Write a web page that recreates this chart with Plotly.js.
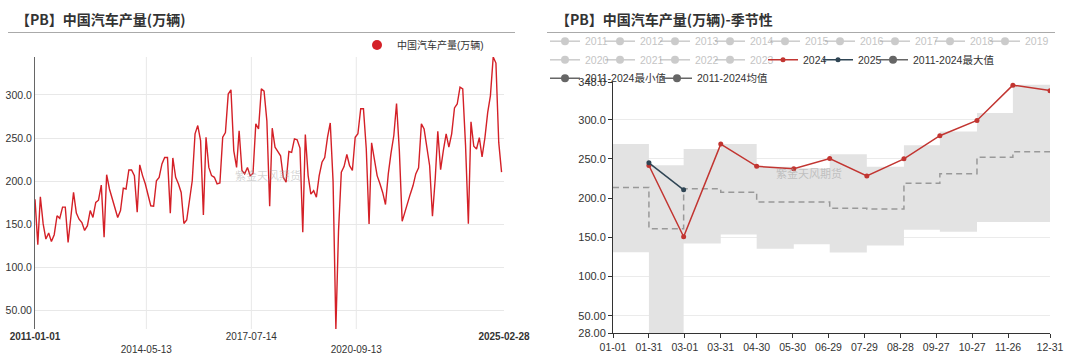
<!DOCTYPE html>
<html><head><meta charset="utf-8">
<script src="https://cdn.plot.ly/plotly-3.0.1.min.js"></script>
<style>
html,body{margin:0;padding:0;background:#fff;}
#wrap{position:relative;width:1080px;height:354px;overflow:hidden;}
#left{position:absolute;left:0;top:0;width:540px;height:354px;}
#right{position:absolute;left:540px;top:0;width:540px;height:354px;}
</style></head><body>
<div id="wrap"><div id="left"></div><div id="right"></div></div>
<script>
// ---------------- data ----------------
const seriesName = '中国汽车产量(万辆)';
const leftTitle = '【PB】中国汽车产量(万辆)';
const rightTitle = '【PB】中国汽车产量(万辆)-季节性';
const watermark = '紫金天风期货';
const firstYear = 2011;
// monthly production, Jan 2011 .. Feb 2025 (万辆)
const prod2011 = [179, 126.5, 182, 150.5, 133, 140, 130, 138, 160, 157, 170, 170];
const prod2012 = [129, 158, 187, 163, 156, 152, 143, 148.5, 166, 158, 175.5, 178];
const prod2013 = [195.5, 135, 207.5, 191, 179.5, 170, 158, 166, 192, 191, 213, 213];
const prod2014 = [206.5, 164, 219, 206.5, 197, 184, 171.5, 171, 200.5, 204.5, 220, 227.5];
const prod2015 = [227.5, 163, 227, 204.5, 197, 187, 151, 155, 177.5, 200.5, 255, 264.5];
const prod2016 = [247, 161, 251, 216, 206.5, 204.5, 197, 198, 251, 256.5, 301, 306];
const prod2017 = [235.5, 216, 258.5, 212.5, 208.5, 216, 206.5, 209, 266.5, 260.5, 307, 304.5];
const prod2018 = [270, 171, 261.5, 239.5, 234.5, 229.5, 204.5, 199, 234.5, 233.5, 249, 248];
const prod2019 = [238.5, 141, 254, 206.5, 185, 189, 181.5, 206.5, 222, 227.5, 251, 267.5];
const prod2020 = [200, 28.7, 142, 210.5, 217, 231, 218, 212.5, 251, 255, 284, 284];
const prod2021 = [238, 150.5, 244.5, 224, 206.5, 197, 187, 173, 208.5, 232.5, 253, 290];
const prod2022 = [235.5, 153.5, 164, 173.5, 185, 195, 208.5, 215.5, 266.5, 260.5, 239.5, 218];
const prod2023 = [159.4, 203.5, 258, 213.5, 235.5, 255, 239.5, 255, 285, 289.5, 309, 307];
const prod2024 = [241.5, 150.7, 268.8, 240.5, 237.4, 250.5, 228.3, 250, 279.5, 299, 344, 337];
const prod2025 = [245, 210.5];
const yearly = [prod2011, prod2012, prod2013, prod2014, prod2015, prod2016, prod2017,
  prod2018, prod2019, prod2020, prod2021, prod2022, prod2023, prod2024, prod2025];

const leftTickDates = ['2011-01-01', '2014-05-13', '2017-07-14', '2020-09-13', '2025-02-28'];
const leftTickText = ['<b>2011-01-01</b>', '<br>2014-05-13', '2017-07-14', '<br>2020-09-13', '<b>2025-02-28</b>'];
const leftYTicks = [50, 100, 150, 200, 250, 300];
const leftYText = ['50.00', '100.0', '150.0', '200.0', '250.0', '300.0'];

// seasonal chart (mapped onto 2024 calendar)
const seasonStart = '2024-01-01';
const seasonMonthEnds = ['2024-01-31', '2024-02-29', '2024-03-31', '2024-04-30', '2024-05-31', '2024-06-30',
  '2024-07-31', '2024-08-31', '2024-09-30', '2024-10-31', '2024-11-30', '2024-12-31'];
const bandMax = [269, 242, 262.5, 269, 240, 238, 256, 240, 267.5, 285, 308.5, 344.5];
const bandMin = [130.8, 28, 142, 153.7, 135.5, 141, 130.6, 139.7, 159.7, 157, 169.5, 169.5];
const bandAvg = [213.5, 161, 212, 207.5, 195, 195, 187, 186, 219, 231, 252, 259];
const maxName = '2011-2024最大值', minName = '2011-2024最小值', avgName = '2011-2024均值';
const seasonTickDates = ['2024-01-01', '2024-01-31', '2024-03-01', '2024-03-31', '2024-04-30', '2024-05-30',
  '2024-06-29', '2024-07-29', '2024-08-28', '2024-09-27', '2024-10-27', '2024-11-26', '2024-12-31'];
const seasonTickText = ['01-01', '01-31', '03-01', '03-31', '04-30', '05-30', '06-29', '07-29', '08-28',
  '09-27', '10-27', '11-26', '12-31'];
const rightYTicks = [28, 50, 100, 150, 200, 250, 300, 348];
const rightYText = ['28.00', '50.00', '100.0', '150.0', '200.0', '250.0', '300.0', '348.0'];

// ---------------- styling ----------------
const FONT = '"Liberation Sans", Arial, "Noto Sans CJK SC", sans-serif';
const TITLEFONT = '"Noto Sans CJK SC", "Liberation Sans", sans-serif';
const RED_LEFT = '#d42027';
const RED = '#c23531';
const NAVY = '#2f4554';
const W = 540, H = 354;

function fx(px, m) { return (px - m.l) / (W - m.l - m.r); }
function fy(py, m) { return (H - m.b - py) / (H - m.t - m.b); }

// ---------------- left chart ----------------
const dates = [];
const values = [];
yearly.forEach((arr, k) => {
  arr.forEach((v, mi) => {
    dates.push((firstYear + k) + '-' + String(mi + 1).padStart(2, '0') + '-01');
    values.push(v);
  });
});
const mL = {l: 35, r: 36, t: 57, b: 25, autoexpand: false};
const leftTraces = [
  {x: dates, y: values, type: 'scatter', mode: 'lines', name: seriesName, legendgroup: 'g',
   showlegend: false, line: {color: RED_LEFT, width: 1.4}, hoverinfo: 'x+y'},
  {x: [null], y: [null], type: 'scatter', mode: 'markers', name: seriesName, legendgroup: 'g',
   marker: {color: RED_LEFT, size: 10}}
];
const leftLayout = {
  width: W, height: H, margin: mL, paper_bgcolor: '#fff', plot_bgcolor: '#fff',
  font: {family: FONT, color: '#333', size: 10},
  title: {text: leftTitle, x: 16 / W, xanchor: 'left', xref: 'container', y: 1 - 20 / H, yanchor: 'middle', yref: 'container',
    font: {family: TITLEFONT, size: 14, color: '#333', weight: 'bold'}},
  showlegend: true,
  legend: {orientation: 'h', xref: 'container', yref: 'container', x: 357 / W, y: 1 - 30.5 / H, xanchor: 'left', yanchor: 'top',
    font: {size: 10, color: '#333'}, bgcolor: 'rgba(0,0,0,0)'},
  xaxis: {type: 'date', range: [leftTickDates[0], leftTickDates[leftTickDates.length - 1]],
    tickmode: 'array', tickvals: leftTickDates, ticktext: leftTickText, showgrid: false, showline: false,
    ticks: '', tickfont: {size: 10, color: '#333'}, zeroline: false, fixedrange: true},
  yaxis: {range: [Math.min(...values), Math.max(...values)], tickmode: 'array', tickvals: leftYTicks, ticktext: leftYText,
    showgrid: true, gridcolor: '#e8e8e8', gridwidth: 1, showline: true, linecolor: '#666', linewidth: 1,
    ticks: '', tickfont: {size: 10.5, color: '#333'}, zeroline: false, fixedrange: true},
  shapes: [
    {type: 'line', xref: 'paper', yref: 'paper', x0: fx(8, mL), x1: fx(515, mL), y0: fy(32.5, mL), y1: fy(32.5, mL),
     line: {color: '#aaa', width: 1.2}}
  ].concat(leftTickDates.slice(1, 4).map(d => ({type: 'line', xref: 'x', yref: 'paper', x0: d, x1: d, y0: 0, y1: 1,
     line: {color: '#e8e8e8', width: 1}, layer: 'below'}))),
  annotations: [{text: watermark, xref: 'paper', yref: 'paper', x: fx(268, mL), y: fy(175, mL), showarrow: false,
    font: {size: 11, color: 'rgba(160,160,160,0.45)'}}]
};
Plotly.newPlot('left', leftTraces, leftLayout, {displayModeBar: false, staticPlot: true});

// ---------------- right chart ----------------
const mR = {l: 73, r: 30, t: 82, b: 21, autoexpand: false};
const bandX = [seasonStart].concat(seasonMonthEnds);
const stepY = arr => arr.concat([arr[arr.length - 1]]);
const rightTraces = [];
rightTraces.push({x: bandX, y: stepY(bandMax), type: 'scatter', mode: 'lines', line: {shape: 'hv', width: 0, color: 'rgba(0,0,0,0)'},
  showlegend: false, name: maxName, hoverinfo: 'skip'});
rightTraces.push({x: bandX, y: stepY(bandMin), type: 'scatter', mode: 'lines', line: {shape: 'hv', width: 0, color: 'rgba(0,0,0,0)'},
  fill: 'tonexty', fillcolor: '#e3e3e3', showlegend: false, name: minName, hoverinfo: 'skip'});
rightTraces.push({x: bandX, y: stepY(bandAvg), type: 'scatter', mode: 'lines', line: {shape: 'hv', width: 1.5, color: '#999', dash: '6px,4px'},
  showlegend: false, name: avgName});
// hidden years 2011-2023 (shown greyed in legend)
yearly.forEach((arr, k) => {
  const yr = firstYear + k;
  if (yr >= 2024) return;
  const lg = yr <= 2015 ? 'legend' : (yr <= 2019 ? 'legend2' : 'legend3');
  const t = {x: seasonMonthEnds.slice(0, arr.length), y: arr, type: 'scatter', mode: 'lines+markers', name: String(yr),
    visible: 'legendonly', legend: lg, line: {color: '#999', width: 1.5}, marker: {color: '#999', size: 8}};
  if (yr === 2015 || yr === 2019 || yr === 2023) t.legendwidth = 26;
  rightTraces.push(t);
});
rightTraces.push({x: seasonMonthEnds.slice(0, prod2024.length), y: prod2024, type: 'scatter', mode: 'lines+markers', name: '2024',
  legend: 'legend4', line: {color: RED, width: 1.5}, marker: {color: RED, size: 5}});
rightTraces.push({x: seasonMonthEnds.slice(0, prod2025.length), y: prod2025, type: 'scatter', mode: 'lines+markers', name: '2025',
  legend: 'legend4', line: {color: NAVY, width: 1.5}, marker: {color: NAVY, size: 5}});
[[maxName, 'legend4', 100], [minName, 'legend5', 0], [avgName, 'legend5', 100]].forEach(([nm, lg, lw]) => {
  const t = {x: [null], y: [null], type: 'scatter', mode: 'lines+markers', name: nm, legend: lg,
    line: {color: '#666', width: 1.5}, marker: {color: '#666', size: 8}};
  if (lw) t.legendwidth = lw;
  rightTraces.push(t);
});
const legBase = {orientation: 'h', xref: 'container', yref: 'container', xanchor: 'left', yanchor: 'top',
  bgcolor: 'rgba(0,0,0,0)', entrywidth: 10, tracegroupgap: 0, traceorder: 'normal'};
const grey = {size: 10.5, color: '#8a8a8a'}, dark = {size: 10.5, color: '#333'};
const rightLayout = {
  width: W, height: H, margin: mR, paper_bgcolor: '#fff', plot_bgcolor: '#fff',
  font: {family: FONT, color: '#333', size: 11},
  title: {text: rightTitle, x: 16 / W, xanchor: 'left', xref: 'container', y: 1 - 20 / H, yanchor: 'middle', yref: 'container',
    font: {family: TITLEFONT, size: 14, color: '#333', weight: 'bold'}},
  showlegend: true,
  legend: Object.assign({}, legBase, {x: 5 / W, y: 1 - 26.7 / H, font: grey}),
  legend2: Object.assign({}, legBase, {x: 280 / W, y: 1 - 26.7 / H, font: grey}),
  legend3: Object.assign({}, legBase, {x: 5 / W, y: 1 - 45.3 / H, font: grey}),
  legend4: Object.assign({}, legBase, {x: 223 / W, y: 1 - 45.3 / H, font: dark}),
  legend5: Object.assign({}, legBase, {x: 5 / W, y: 1 - 63.7 / H, entrywidth: 67, font: dark}),
  xaxis: {type: 'date', range: [seasonStart, seasonMonthEnds[11]], tickmode: 'array', tickvals: seasonTickDates, ticktext: seasonTickText,
    showgrid: false, showline: true, linecolor: '#333', linewidth: 1, ticks: 'outside', ticklen: 4, tickcolor: '#333',
    tickfont: {size: 10.5, color: '#333'}, zeroline: false, fixedrange: true},
  yaxis: {range: [rightYTicks[0], rightYTicks[rightYTicks.length - 1]], tickmode: 'array', tickvals: rightYTicks, ticktext: rightYText,
    showgrid: true, gridcolor: '#ebebeb', showline: true, linecolor: '#333', linewidth: 1, ticks: 'outside', ticklen: 4, tickcolor: '#333',
    tickfont: {size: 11, color: '#333'}, zeroline: false, fixedrange: true},
  shapes: [
    {type: 'line', xref: 'paper', yref: 'paper', x0: fx(7, mR), x1: fx(515, mR), y0: fy(32.5, mR), y1: fy(32.5, mR),
     line: {color: '#aaa', width: 1.2}}
  ],
  annotations: [{text: watermark, xref: 'paper', yref: 'paper', x: fx(269, mR), y: fy(173, mR), showarrow: false,
    font: {size: 11, color: 'rgba(160,160,160,0.55)'}}]
};
Plotly.newPlot('right', rightTraces, rightLayout, {displayModeBar: false, staticPlot: true});
</script></body></html>
